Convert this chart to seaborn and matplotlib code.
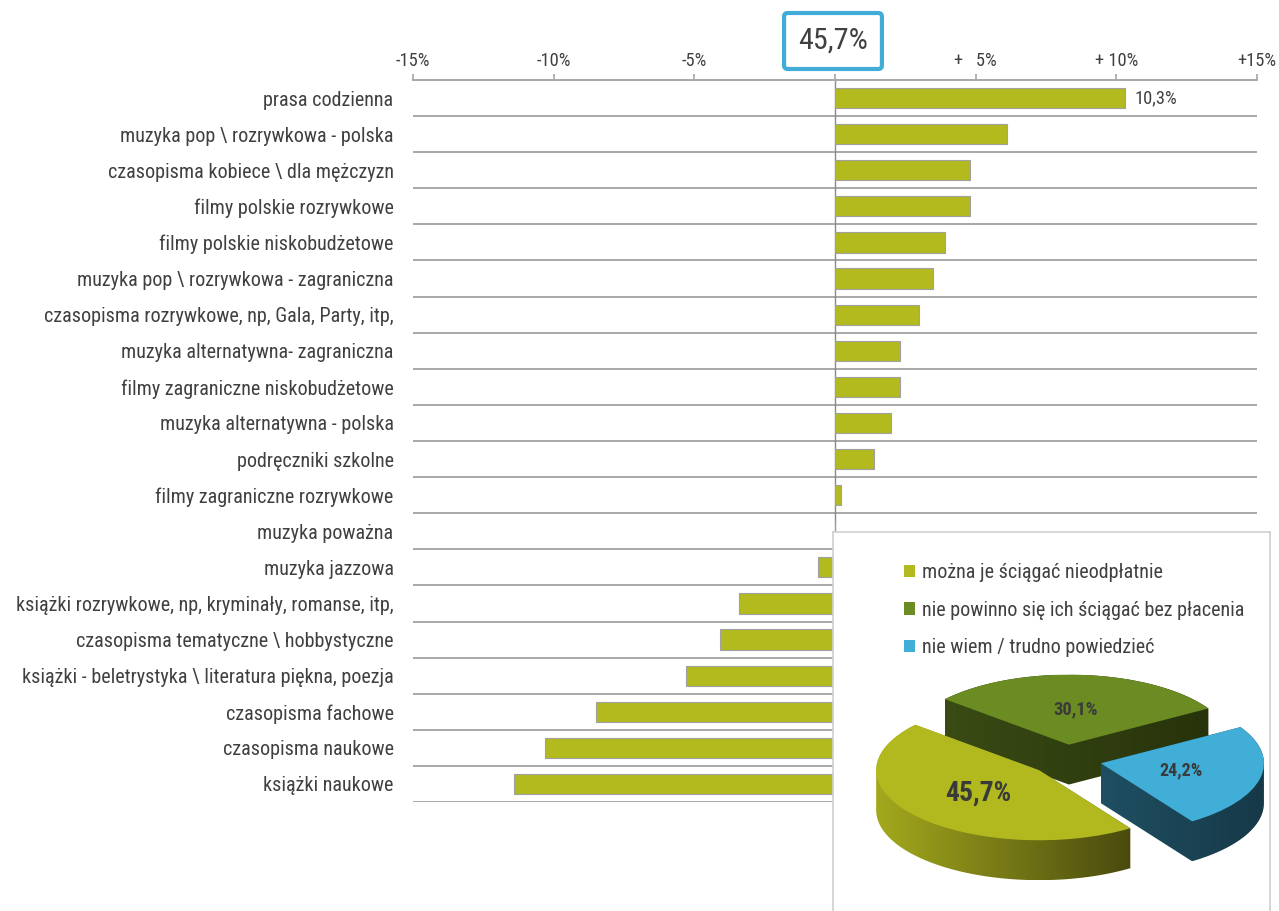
import numpy as np
import pandas as pd
import matplotlib
matplotlib.use("Agg")
import matplotlib.pyplot as plt
import seaborn as sns
from matplotlib import font_manager
from matplotlib.patches import Polygon, Rectangle
from matplotlib.colors import LinearSegmentedColormap

# ---- data -------------------------------------------------------------
categories = [
    "prasa codzienna",
    "muzyka pop \\ rozrywkowa - polska",
    "czasopisma kobiece \\ dla mężczyzn",
    "filmy polskie rozrywkowe",
    "filmy polskie niskobudżetowe",
    "muzyka pop \\ rozrywkowa - zagraniczna",
    "czasopisma rozrywkowe, np, Gala, Party, itp,",
    "muzyka alternatywna- zagraniczna",
    "filmy zagraniczne niskobudżetowe",
    "muzyka alternatywna - polska",
    "podręczniki szkolne",
    "filmy zagraniczne rozrywkowe",
    "muzyka poważna",
    "muzyka jazzowa",
    "książki rozrywkowe, np, kryminały, romanse, itp,",
    "czasopisma tematyczne \\ hobbystyczne",
    "książki - beletrystyka \\ literatura piękna, poezja",
    "czasopisma fachowe",
    "czasopisma naukowe",
    "książki naukowe",
]
change = [10.3, 6.1, 4.8, 4.8, 3.9, 3.5, 3.0, 2.3, 2.3, 2.0, 1.4, 0.2, 0.0,
          -0.6, -3.4, -4.1, -5.3, -8.5, -10.3, -11.4]
tick_values = [-15, -10, -5, 0, 5, 10, 15]
tick_labels = ["-15%", "-10%", "-5%", "", "+   5%", "+ 10%", "+15%"]

opinion_labels = [
    "można je ściągać nieodpłatnie",
    "nie powinno się ich ściągać bez płacenia",
    "nie wiem / trudno powiedzieć",
]
opinion_share = [45.7, 30.1, 24.2]

# ---- style ------------------------------------------------------------
BAR = "#b2ba1e"
TEXT = "#404040"
GRID = "#a8a8a8"
TOP_COLORS = ["#b1b91e", "#6b8b23", "#41aed8"]
WALL_COLORS = [("#a3a91d", "#4a4a0e"), ("#3a4b14", "#27330b"), ("#1f4f62", "#163948")]

sns.set_theme(style="white")
available = {f.name for f in font_manager.fontManager.ttflist}
preferred = ["Liberation Sans Narrow", "Arial Narrow", "Roboto Condensed",
             "Open Sans Condensed", "Liberation Sans"]
base_font = next((n for n in preferred if n in available), "DejaVu Sans")
plt.rcParams["font.family"] = [base_font, "DejaVu Sans"]


def pct(v):
    return f"{v:.1f}%".replace(".", ",")


W, H = 1279, 911
fig = plt.figure(figsize=(W / 100, H / 100), dpi=100)
fig.patch.set_facecolor("white")
renderer = fig.canvas.get_renderer()


def text_width(s, size, **kw):
    t = fig.text(0, 0, s, fontsize=size, **kw)
    w = t.get_window_extent(renderer=renderer).width
    t.remove()
    return w


# scale type so that the condensed label widths of the layout are kept
k = 130.0 / text_width("prasa codzienna", 10)
kb = 66.7 / text_width("45,7%", 10, fontweight="bold")
LABEL = 10 * k
TICK = 10 * k * 0.917
HEAD = 10 * k * 1.5
PIE_BIG = 10 * kb
PIE_SMALL = 10 * kb * 0.67

# ---- horizontal bar chart ----------------------------------------------
ax = fig.add_axes([413 / W, 1 - 802 / H, 844 / W, 722 / H])
df = pd.DataFrame({"kategoria": categories, "zmiana": change})
sns.barplot(data=df, x="zmiana", y="kategoria", orient="h", color=BAR,
            saturation=1, width=0.56, edgecolor="#a0a0a0", linewidth=0.8, ax=ax)

n = len(categories)
ax.set_ylim(n - 0.5, -0.5)
ax.set_xlim(-15, 15)
for i in range(n):
    ax.axhline(i + 0.5, color=GRID, lw=1.4, zorder=0.5)
ax.axvline(0, color="#8a8a8a", lw=1.0, zorder=0.6)

for side in ["left", "right", "bottom"]:
    ax.spines[side].set_visible(False)
ax.spines["top"].set_color(GRID)
ax.spines["top"].set_linewidth(1.4)

ax.xaxis.tick_top()
ax.set_xticks(tick_values, tick_labels)
ax.tick_params(axis="x", top=True, bottom=False, direction="out", length=4,
               color=GRID, labelsize=TICK, labelcolor=TEXT, pad=3.5)
ax.tick_params(axis="y", length=0, pad=14, labelsize=LABEL, labelcolor=TEXT)
ax.set_xlabel("")
ax.set_ylabel("")

ax.text(change[0] + 0.35, 0, pct(change[0]), ha="left", va="center",
        fontsize=TICK, color=TEXT)

# headline share
head_px = HEAD * 100 / 72
fig.text(833 / W, 1 - 41 / H, pct(opinion_share[0]), ha="center", va="center",
         fontsize=HEAD, color=TEXT,
         bbox=dict(boxstyle=f"round,pad={14 / head_px:.3f},rounding_size=0.12",
                   fc="white", ec="#41acd8", lw=3))

# ---- inset: opinion pie --------------------------------------------------
pax = fig.add_axes([833 / W, 0, 437 / W, 379 / H])
pax.set_zorder(5)
pax.set_facecolor("white")

wedges, _, autotexts = pax.pie(
    opinion_share, colors=TOP_COLORS, startangle=304, counterclock=False,
    explode=[0.22, 0.22, 0.22], radius=1, frame=True,
    autopct=lambda p: pct(p), pctdistance=0.5,
    wedgeprops=dict(linewidth=0),
    textprops=dict(color="#3a3a3a", fontweight="bold"),
)


def convex_hull(points):
    pts = sorted(map(tuple, points))

    def cross(o, a, b):
        return (a[0] - o[0]) * (b[1] - o[1]) - (a[1] - o[1]) * (b[0] - o[0])

    lower, upper = [], []
    for p in pts:
        while len(lower) >= 2 and cross(lower[-2], lower[-1], p) <= 0:
            lower.pop()
        lower.append(p)
    for p in reversed(pts):
        while len(upper) >= 2 and cross(upper[-2], upper[-1], p) <= 0:
            upper.pop()
        upper.append(p)
    return np.array(lower[:-1] + upper[:-1])


depth = 0.57
draw_order = {1: 1.0, 0: 2.0, 2: 2.0}
for i, w in enumerate(wedges):
    cx, cy = w.center
    th = np.radians(np.linspace(w.theta1, w.theta2, 120))
    top = np.column_stack([cx + w.r * np.cos(th), cy + w.r * np.sin(th)])
    top = np.vstack([[cx, cy], top])
    body = np.vstack([top, top - [0, depth]])
    hull = convex_hull(body)
    base = draw_order[i]
    wall = Polygon(hull, closed=True, fc="none", ec="none")
    pax.add_patch(wall)
    x0, x1 = hull[:, 0].min(), hull[:, 0].max()
    y0, y1 = hull[:, 1].min(), hull[:, 1].max()
    cmap = LinearSegmentedColormap.from_list(f"wall{i}", list(WALL_COLORS[i]))
    img = pax.imshow(np.linspace(0, 1, 256)[None, :], extent=(x0, x1, y0, y1),
                     cmap=cmap, aspect="auto", interpolation="bilinear",
                     zorder=base)
    img.set_clip_path(wall)
    w.set_zorder(base + 0.5)
    autotexts[i].set_zorder(base + 0.8)

autotexts[0].set_fontsize(PIE_BIG)
autotexts[1].set_fontsize(PIE_SMALL)
autotexts[2].set_fontsize(PIE_SMALL * 0.97)

pax.set_aspect("auto")
pax.set_xlim(-1.429, 1.252)
pax.set_ylim(-2.157, 3.257)
pax.set_xticks([])
pax.set_yticks([])
for side, sp in pax.spines.items():
    sp.set_color("#cfcfcf")
    sp.set_linewidth(1.2)
pax.spines["bottom"].set_visible(False)

handles = [Rectangle((0, 0), 1, 1, fc=c, ec="none") for c in TOP_COLORS]
pax.legend(handles, opinion_labels, loc="upper left", bbox_to_anchor=(0.163, 0.918),
           frameon=False, fontsize=LABEL, labelcolor=TEXT, handlelength=0.55,
           handleheight=0.55, handletextpad=0.35, labelspacing=0.92,
           borderpad=0, borderaxespad=0)

fig.savefig("out.png", dpi=100)
